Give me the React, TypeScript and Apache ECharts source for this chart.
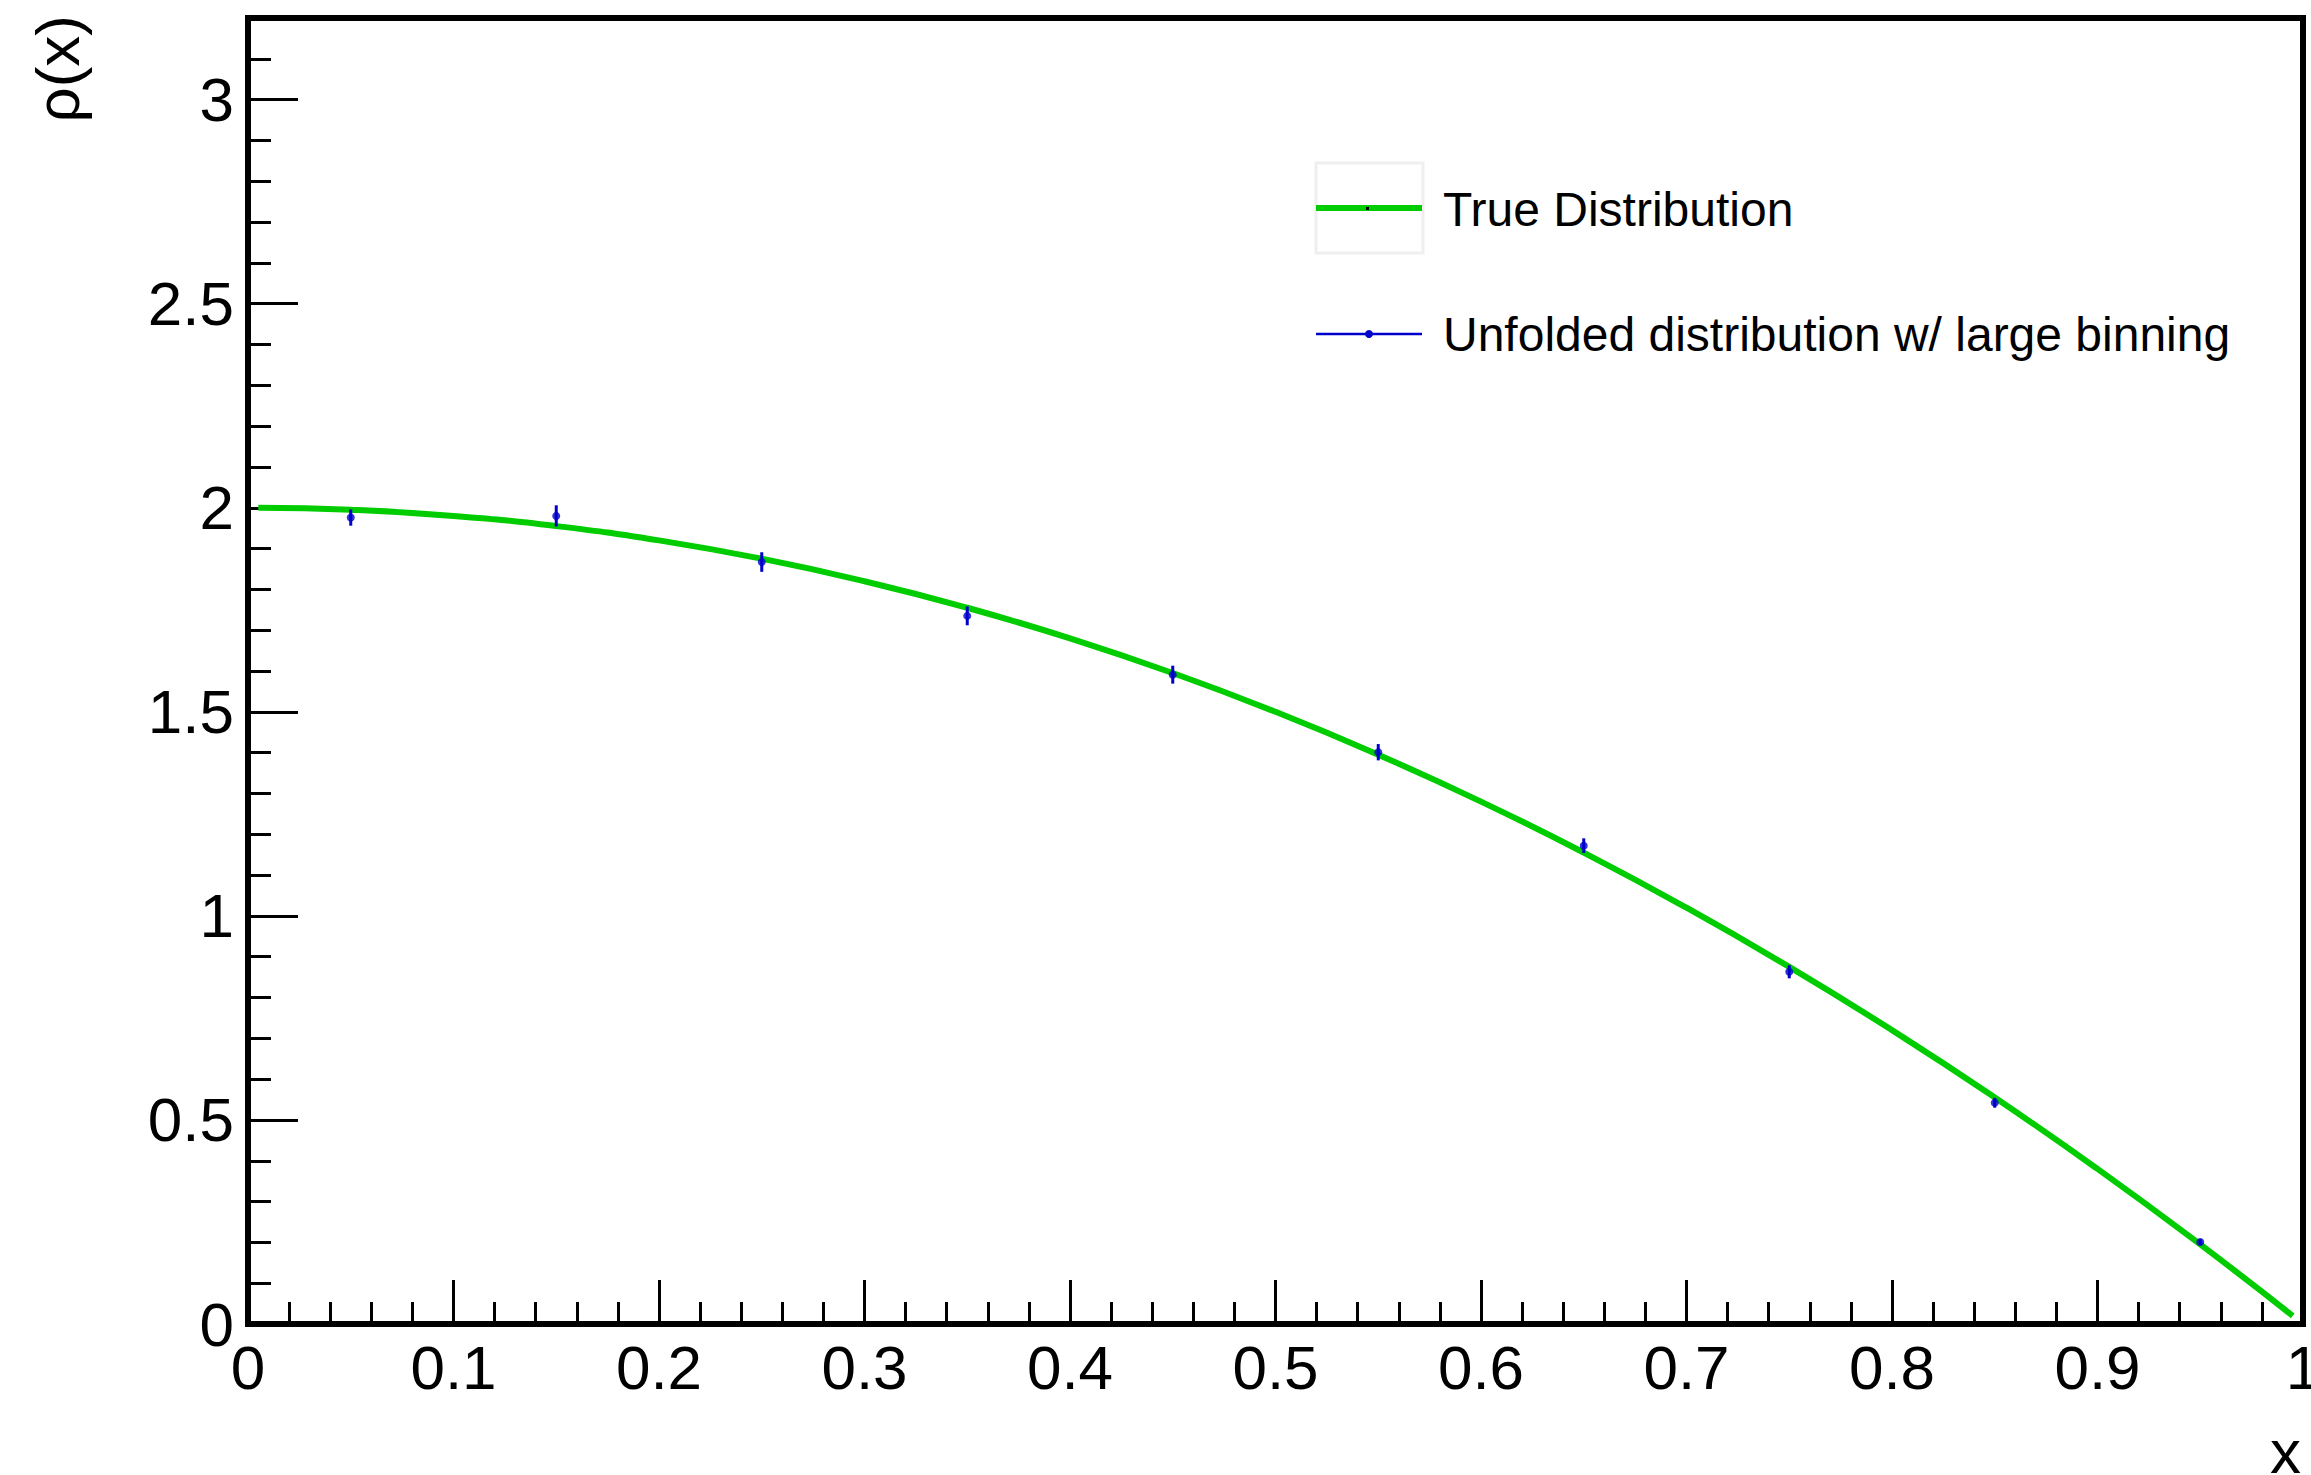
import React, { useEffect, useRef } from "react";
import * as echarts from "echarts";

// True distribution curve
const curveX = [0.005, 0.05, 0.1, 0.15, 0.2, 0.25, 0.3, 0.35, 0.4, 0.45, 0.5, 0.55, 0.6, 0.65, 0.7, 0.75, 0.8, 0.85, 0.9, 0.95, 0.995];
const curveY = [2.0, 1.995, 1.98, 1.955, 1.92, 1.875, 1.82, 1.755, 1.68, 1.595, 1.5, 1.395, 1.28, 1.155, 1.02, 0.875, 0.72, 0.555, 0.38, 0.195, 0.02];

// Unfolded points with errors
const pointX = [0.05, 0.15, 0.25, 0.35, 0.45, 0.55, 0.65, 0.75, 0.85, 0.95];
const pointY = [1.976, 1.98, 1.867, 1.735, 1.591, 1.401, 1.172, 0.863, 0.542, 0.201];
const pointErr = [0.02, 0.026, 0.024, 0.023, 0.022, 0.02, 0.018, 0.016, 0.012, 0.007];

const legendLabels = ["True Distribution", "Unfolded distribution w/ large binning"];
const xTitle = "x";
const yTitle = "ρ(x)";

const FONT = "'Liberation Sans', Arial, Helvetica, sans-serif";
const GREEN = "#00cc00";
const BLUE = "#0000cc";

export default function App() {
  const ref = useRef<HTMLDivElement>(null);
  useEffect(() => {
    if (!ref.current) return;
    const chart = echarts.init(ref.current, undefined, { renderer: "svg" });
    const curveData = curveX.map((x, i) => [x, curveY[i]]);
    const pts = pointX.map((x, i) => [x, pointY[i]]);
    const errs = pointX.map((x, i) => [x, pointY[i], pointErr[i]]);
    chart.setOption({
      animation: false,
      backgroundColor: "#ffffff",
      grid: {
        left: 248,
        right: 8,
        top: 18,
        bottom: 151,
        show: true,
        borderColor: "#000",
        borderWidth: 6,
        backgroundColor: "transparent",
        containLabel: false,
        outerBoundsMode: "none",
      },
      xAxis: [
        {
          type: "value",
          min: 0,
          max: 1,
          interval: 0.1,
          axisLine: { show: false },
          splitLine: { show: false },
          axisTick: { show: true, inside: true, length: 44, lineStyle: { color: "#000", width: 3 } },
          minorTick: { show: true, splitNumber: 5, length: 22, lineStyle: { color: "#000", width: 3 } },
          axisLabel: { show: true, fontSize: 62, fontFamily: FONT, color: "#000", margin: 12 },
        },
      ],
      yAxis: [
        {
          type: "value",
          min: 0,
          max: 3.2,
          interval: 0.5,
          position: "left",
          axisLine: { show: false },
          splitLine: { show: false },
          axisTick: { show: true, inside: true, length: 50, lineStyle: { color: "#000", width: 3 } },
          axisLabel: {
            show: true,
            fontSize: 62,
            fontFamily: FONT,
            color: "#000",
            margin: 14,
            formatter: (v: number) => (v > 3.05 ? "" : String(Math.round(v * 10) / 10)),
          },
        },
        {
          type: "value",
          min: 0,
          max: 3.2,
          interval: 0.1,
          position: "left",
          offset: 0,
          axisLine: { show: false },
          splitLine: { show: false },
          axisTick: { show: true, inside: true, length: 23, lineStyle: { color: "#000", width: 3 } },
          axisLabel: { show: false },
        },
      ],
      series: [
        {
          type: "line",
          data: curveData,
          smooth: true,
          symbol: "none",
          lineStyle: { color: GREEN, width: 6 },
          z: 2,
        },
        {
          type: "custom",
          data: errs,
          z: 3,
          renderItem: (params: any, api: any) => {
            const x = api.value(0);
            const y = api.value(1);
            const e = api.value(2);
            const top = api.coord([x, y + e]);
            const bot = api.coord([x, y - e]);
            return {
              type: "line",
              shape: { x1: top[0], y1: top[1], x2: bot[0], y2: bot[1] },
              style: { stroke: BLUE, lineWidth: 3 },
            };
          },
        },
        {
          type: "scatter",
          data: pts,
          symbol: "circle",
          symbolSize: 8,
          itemStyle: { color: BLUE },
          z: 4,
        },
      ],
      graphic: [
        {
          type: "rect",
          shape: { x: 1316, y: 163, width: 107, height: 90 },
          style: { fill: "#fff", stroke: "#efefef", lineWidth: 3 },
          z: 10,
        },
        {
          type: "line",
          shape: { x1: 1316, y1: 208, x2: 1422, y2: 208 },
          style: { stroke: GREEN, lineWidth: 6 },
          z: 11,
        },
        {
          type: "rect",
          shape: { x: 1366, y: 207, width: 3, height: 3 },
          style: { fill: "#000" },
          z: 12,
        },
        {
          type: "text",
          x: 1443,
          y: 209.5,
          style: { text: legendLabels[0], font: `48px ${FONT}`, fill: "#000", align: "left", verticalAlign: "middle" },
          z: 11,
        },
        {
          type: "line",
          shape: { x1: 1316, y1: 334, x2: 1422, y2: 334 },
          style: { stroke: BLUE, lineWidth: 2.5 },
          z: 11,
        },
        {
          type: "circle",
          shape: { cx: 1369, cy: 334, r: 4 },
          style: { fill: BLUE },
          z: 12,
        },
        {
          type: "text",
          x: 1443,
          y: 334.5,
          style: { text: legendLabels[1], font: `48px ${FONT}`, fill: "#000", align: "left", verticalAlign: "middle" },
          z: 11,
        },
        {
          type: "text",
          x: 2301,
          y: 1451,
          style: { text: xTitle, font: `62px ${FONT}`, fill: "#000", align: "right", verticalAlign: "middle" },
        },
        {
          type: "text",
          x: 57,
          y: 15,
          rotation: Math.PI / 2,
          style: { text: yTitle, font: `62px ${FONT}`, fill: "#000", align: "right", verticalAlign: "middle" },
        },
      ],
    });
    return () => chart.dispose();
  }, []);
  return (
    <div
      ref={ref}
      style={{ position: "fixed", left: 0, top: 0, width: 2311, height: 1475, background: "#fff" }}
    />
  );
}
